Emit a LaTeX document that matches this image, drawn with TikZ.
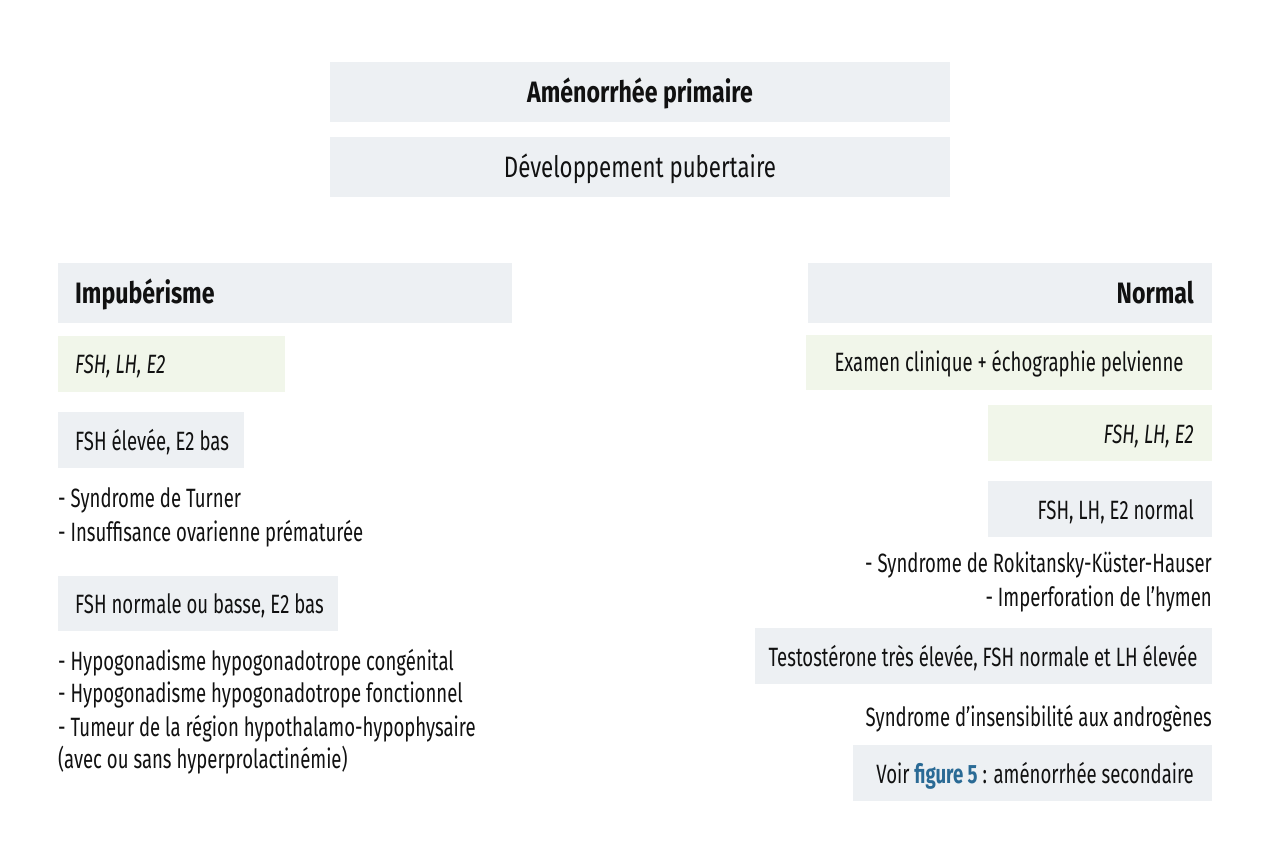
\documentclass[tikz,border=0pt]{standalone}
\usepackage{fontspec}
\setmainfont[FakeStretch=0.70]{Fira Sans}
\newfontfamily\bigfont[FakeStretch=0.755]{Fira Sans}
\newfontfamily\headfont[FakeStretch=0.785]{Fira Sans}
\definecolor{boxgrey}{HTML}{EDF0F3}
\definecolor{boxgreen}{HTML}{F1F6EA}
\definecolor{linkblue}{HTML}{2A6A95}
\definecolor{txt}{HTML}{111111}
\begin{document}
\begin{tikzpicture}[x=1pt,y=-1pt,
  font=\fontsize{26.5}{33}\selectfont, text=txt,
  box/.style={anchor=north west, inner sep=0pt, outer sep=0pt},
  gbox/.style={box, fill=boxgrey},
  vbox/.style={box, fill=boxgreen},
  lt/.style={inner sep=0pt, anchor=base west},
  rt/.style={inner sep=0pt, anchor=base east},
  ct/.style={inner sep=0pt, anchor=base},
  hd/.style={font=\headfont\fontsize{29.5}{33}\selectfont\bfseries},
  bg/.style={font=\bigfont\fontsize{29.5}{33}\selectfont},
  it/.style={font=\fontsize{26.5}{33}\selectfont\itshape}]
\useasboundingbox[fill=white] (0,0) rectangle (1280,865);
% boxes
\node[gbox, minimum width=620pt, minimum height=60pt] (titre) at (330,62) {};
\node[gbox, minimum width=620pt, minimum height=60pt] (dev) at (330,137) {};
\node[gbox, minimum width=454pt, minimum height=60pt] (imp) at (58,263) {};
\node[vbox, minimum width=227pt, minimum height=56pt] (hormL) at (58,336) {};
\node[gbox, minimum width=186pt, minimum height=56pt] (fshHigh) at (58,412) {};
\node[gbox, minimum width=280pt, minimum height=55pt] (fshLow) at (58,576) {};
\node[gbox, minimum width=404pt, minimum height=60pt] (norm) at (808,263) {};
\node[vbox, minimum width=406pt, minimum height=55pt] (exam) at (806,335) {};
\node[vbox, minimum width=224pt, minimum height=56pt] (hormR) at (988,405) {};
\node[gbox, minimum width=224pt, minimum height=56pt] (fshNorm) at (988,481) {};
\node[gbox, minimum width=457pt, minimum height=56pt] (testo) at (755,628) {};
\node[gbox, minimum width=359pt, minimum height=56pt] (voir) at (853,745) {};
% box texts
\node[ct, hd] (titreT) at (640,102) {Aménorrhée primaire};
\node[ct, bg] (devT) at (640,177) {Développement pubertaire};
\node[lt, hd] (impT) at (75,303) {Impubérisme};
\node[lt, it] (hormLT) at (75,373) {FSH, LH, E2};
\node[lt] (fshHighT) at (75,450) {FSH élevée, E2 bas};
\node[lt] (fshLowT) at (75,613) {FSH normale ou basse, E2 bas};
\node[rt, hd] (normT) at (1194,303) {Normal};
\node[ct] (examT) at (1009,371) {Examen clinique + échographie pelvienne};
\node[rt, it] (hormRT) at (1194,443) {FSH, LH, E2};
\node[rt] (fshNormT) at (1194,519) {FSH, LH, E2 normal};
\node[ct] (testoT) at (983,666) {Testostérone très élevée, FSH normale et LH élevée};
\node[rt] (voirT) at (1194,783) {Voir {\bfseries\color{linkblue}figure 5} : aménorrhée secondaire};
% lists
\node[lt] (la1) at (58,507) {- Syndrome de Turner};
\node[lt] (la2) at (58,541) {- Insuffisance ovarienne prématurée};
\node[lt] (lb1) at (58,670) {- Hypogonadisme hypogonadotrope congénital};
\node[lt] (lb2) at (58,702) {- Hypogonadisme hypogonadotrope fonctionnel};
\node[lt] (lb3) at (58,736) {- Tumeur de la région hypothalamo-hypophysaire};
\node[lt] (lb4) at (58,768) {(avec ou sans hyperprolactinémie)};
\node[rt] (ra1) at (1212,572) {- Syndrome de Rokitansky-Küster-Hauser};
\node[rt] (ra2) at (1212,606) {- Imperforation de l’hymen};
\node[rt] (andro) at (1212,726) {Syndrome d’insensibilité aux androgènes};
\end{tikzpicture}
\end{document}
